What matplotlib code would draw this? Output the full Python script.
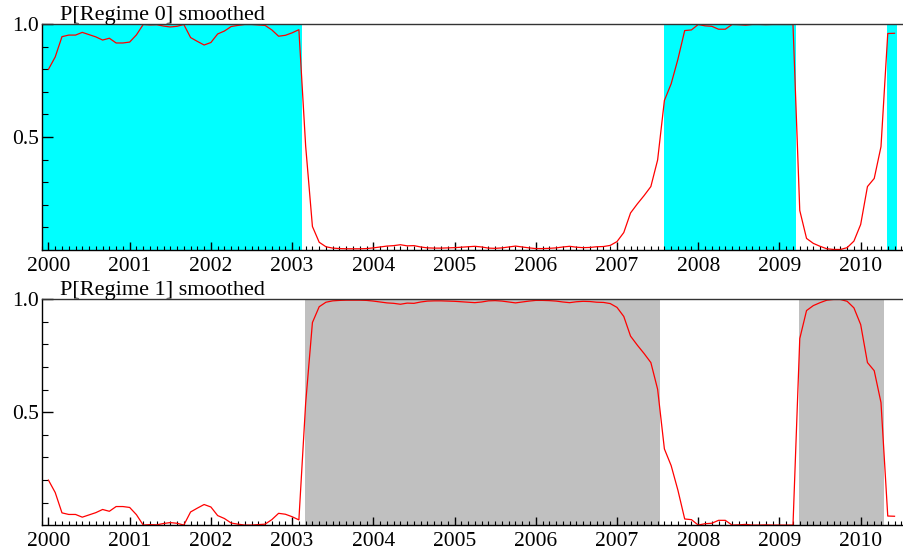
import numpy as np
import matplotlib
matplotlib.use("Agg")
import matplotlib.pyplot as plt
from matplotlib.ticker import FixedLocator, NullFormatter

# smoothed probability of regime 0, monthly from 2000(1) to 2010(6)
start_year = 2000
p_regime0 = [
    0.800, 0.855, 0.945, 0.952, 0.952, 0.964, 0.954, 0.944, 0.930, 0.938, 0.917, 0.917,   # 2000
    0.921, 0.953, 0.999, 0.997, 0.998, 0.992, 0.988, 0.991, 0.999, 0.941, 0.924, 0.908,   # 2001
    0.919, 0.957, 0.970, 0.990, 0.995, 0.999, 0.999, 0.997, 0.995, 0.975, 0.947, 0.951,   # 2002
    0.962, 0.976, 0.460, 0.103, 0.033, 0.013, 0.007, 0.005, 0.004, 0.004, 0.004, 0.005,   # 2003
    0.008, 0.012, 0.016, 0.018, 0.022, 0.017, 0.018, 0.012, 0.008, 0.007, 0.007, 0.008,   # 2004
    0.009, 0.011, 0.013, 0.015, 0.012, 0.007, 0.006, 0.008, 0.012, 0.016, 0.012, 0.008,   # 2005
    0.005, 0.005, 0.006, 0.008, 0.012, 0.015, 0.011, 0.009, 0.010, 0.013, 0.014, 0.019,   # 2006
    0.036, 0.076, 0.163, 0.203, 0.240, 0.280, 0.398, 0.662, 0.736, 0.845, 0.972, 0.975,   # 2007
    0.999, 0.993, 0.991, 0.978, 0.978, 0.999, 0.998, 0.996, 0.999, 0.999, 0.998, 0.999,   # 2008
    0.999, 0.999, 0.999, 0.174, 0.050, 0.028, 0.015, 0.004, 0.001, 0.001, 0.009, 0.038,   # 2009
    0.112, 0.280, 0.316, 0.457, 0.959, 0.960,                                             # 2010
]
# two-regime model: regime 1 is the complement
p_regime1 = [1.0 - p for p in p_regime0]

titles = ["P[Regime 0] smoothed", "P[Regime 1] smoothed"]
shade_colors = ["#00FFFF", "#C0C0C0"]
year_labels = list(range(2000, 2011))

n = len(p_regime0)
x = start_year + np.arange(n) / 12.0
regime0 = np.array(p_regime0) > 0.5

plt.rcParams['font.family'] = ['Liberation Serif', 'DejaVu Serif']

fig = plt.figure(figsize=(9.04, 5.54), dpi=100)
axes = [fig.add_axes([0.0461, 0.5493, 0.9539, 0.4069]),
        fig.add_axes([0.0461, 0.0518, 0.9539, 0.4080])]

x_left = start_year - 1 / 12
x_right = start_year + 126.4 / 12


def runs(mask):
    # contiguous stretches where mask is true
    out = []
    i = 0
    while i < len(mask):
        if mask[i]:
            j = i
            while j + 1 < len(mask) and mask[j + 1]:
                j += 1
            out.append((i, j))
            i = j + 1
        else:
            i += 1
    return out


for k, (ax, series) in enumerate(zip(axes, [p_regime0, p_regime1])):
    mask = regime0 if k == 0 else ~regime0
    for i, j in runs(mask):
        lo = x_left if i == 0 else x[i] - 0.1 / 12
        ax.axvspan(lo, x[j] + 0.4 / 12, color=shade_colors[k], lw=0, zorder=0)
    ax.plot(x, series, color="red", lw=0.9, zorder=2)

    ax.set_xlim(x_left, x_right)
    ax.set_ylim(0, 1)

    ax.xaxis.set_major_locator(FixedLocator(year_labels))
    ax.set_xticklabels([str(y) for y in year_labels])
    ax.xaxis.set_minor_locator(FixedLocator(start_year + np.arange(-1, 128) / 12.0))
    ax.yaxis.set_major_locator(FixedLocator([0.5, 1.0]))
    ax.set_yticklabels(["0.5", "1.0"])
    ax.yaxis.set_minor_locator(FixedLocator(np.arange(1, 10) / 10.0))
    ax.yaxis.set_minor_formatter(NullFormatter())

    ax.tick_params(axis='x', which='major', direction='in', length=6, width=1, labelsize=15.5, pad=5)
    ax.tick_params(axis='x', which='minor', direction='in', length=3, width=0.8)
    ax.tick_params(axis='y', which='major', direction='in', length=8, width=1, labelsize=15.5, pad=2)
    ax.tick_params(axis='y', which='minor', direction='in', length=4, width=0.8)
    ax.tick_params(top=False, right=False, which='both')

    ax.spines['right'].set_visible(False)
    for side in ['left', 'top', 'bottom']:
        ax.spines[side].set_linewidth(1.0)
    ax.spines['top'].set_color('#333333')

    ax.text(0.021, 1.019, titles[k], transform=ax.transAxes, fontsize=16, va='baseline', ha='left')

fig.savefig("out.png", dpi=100)
